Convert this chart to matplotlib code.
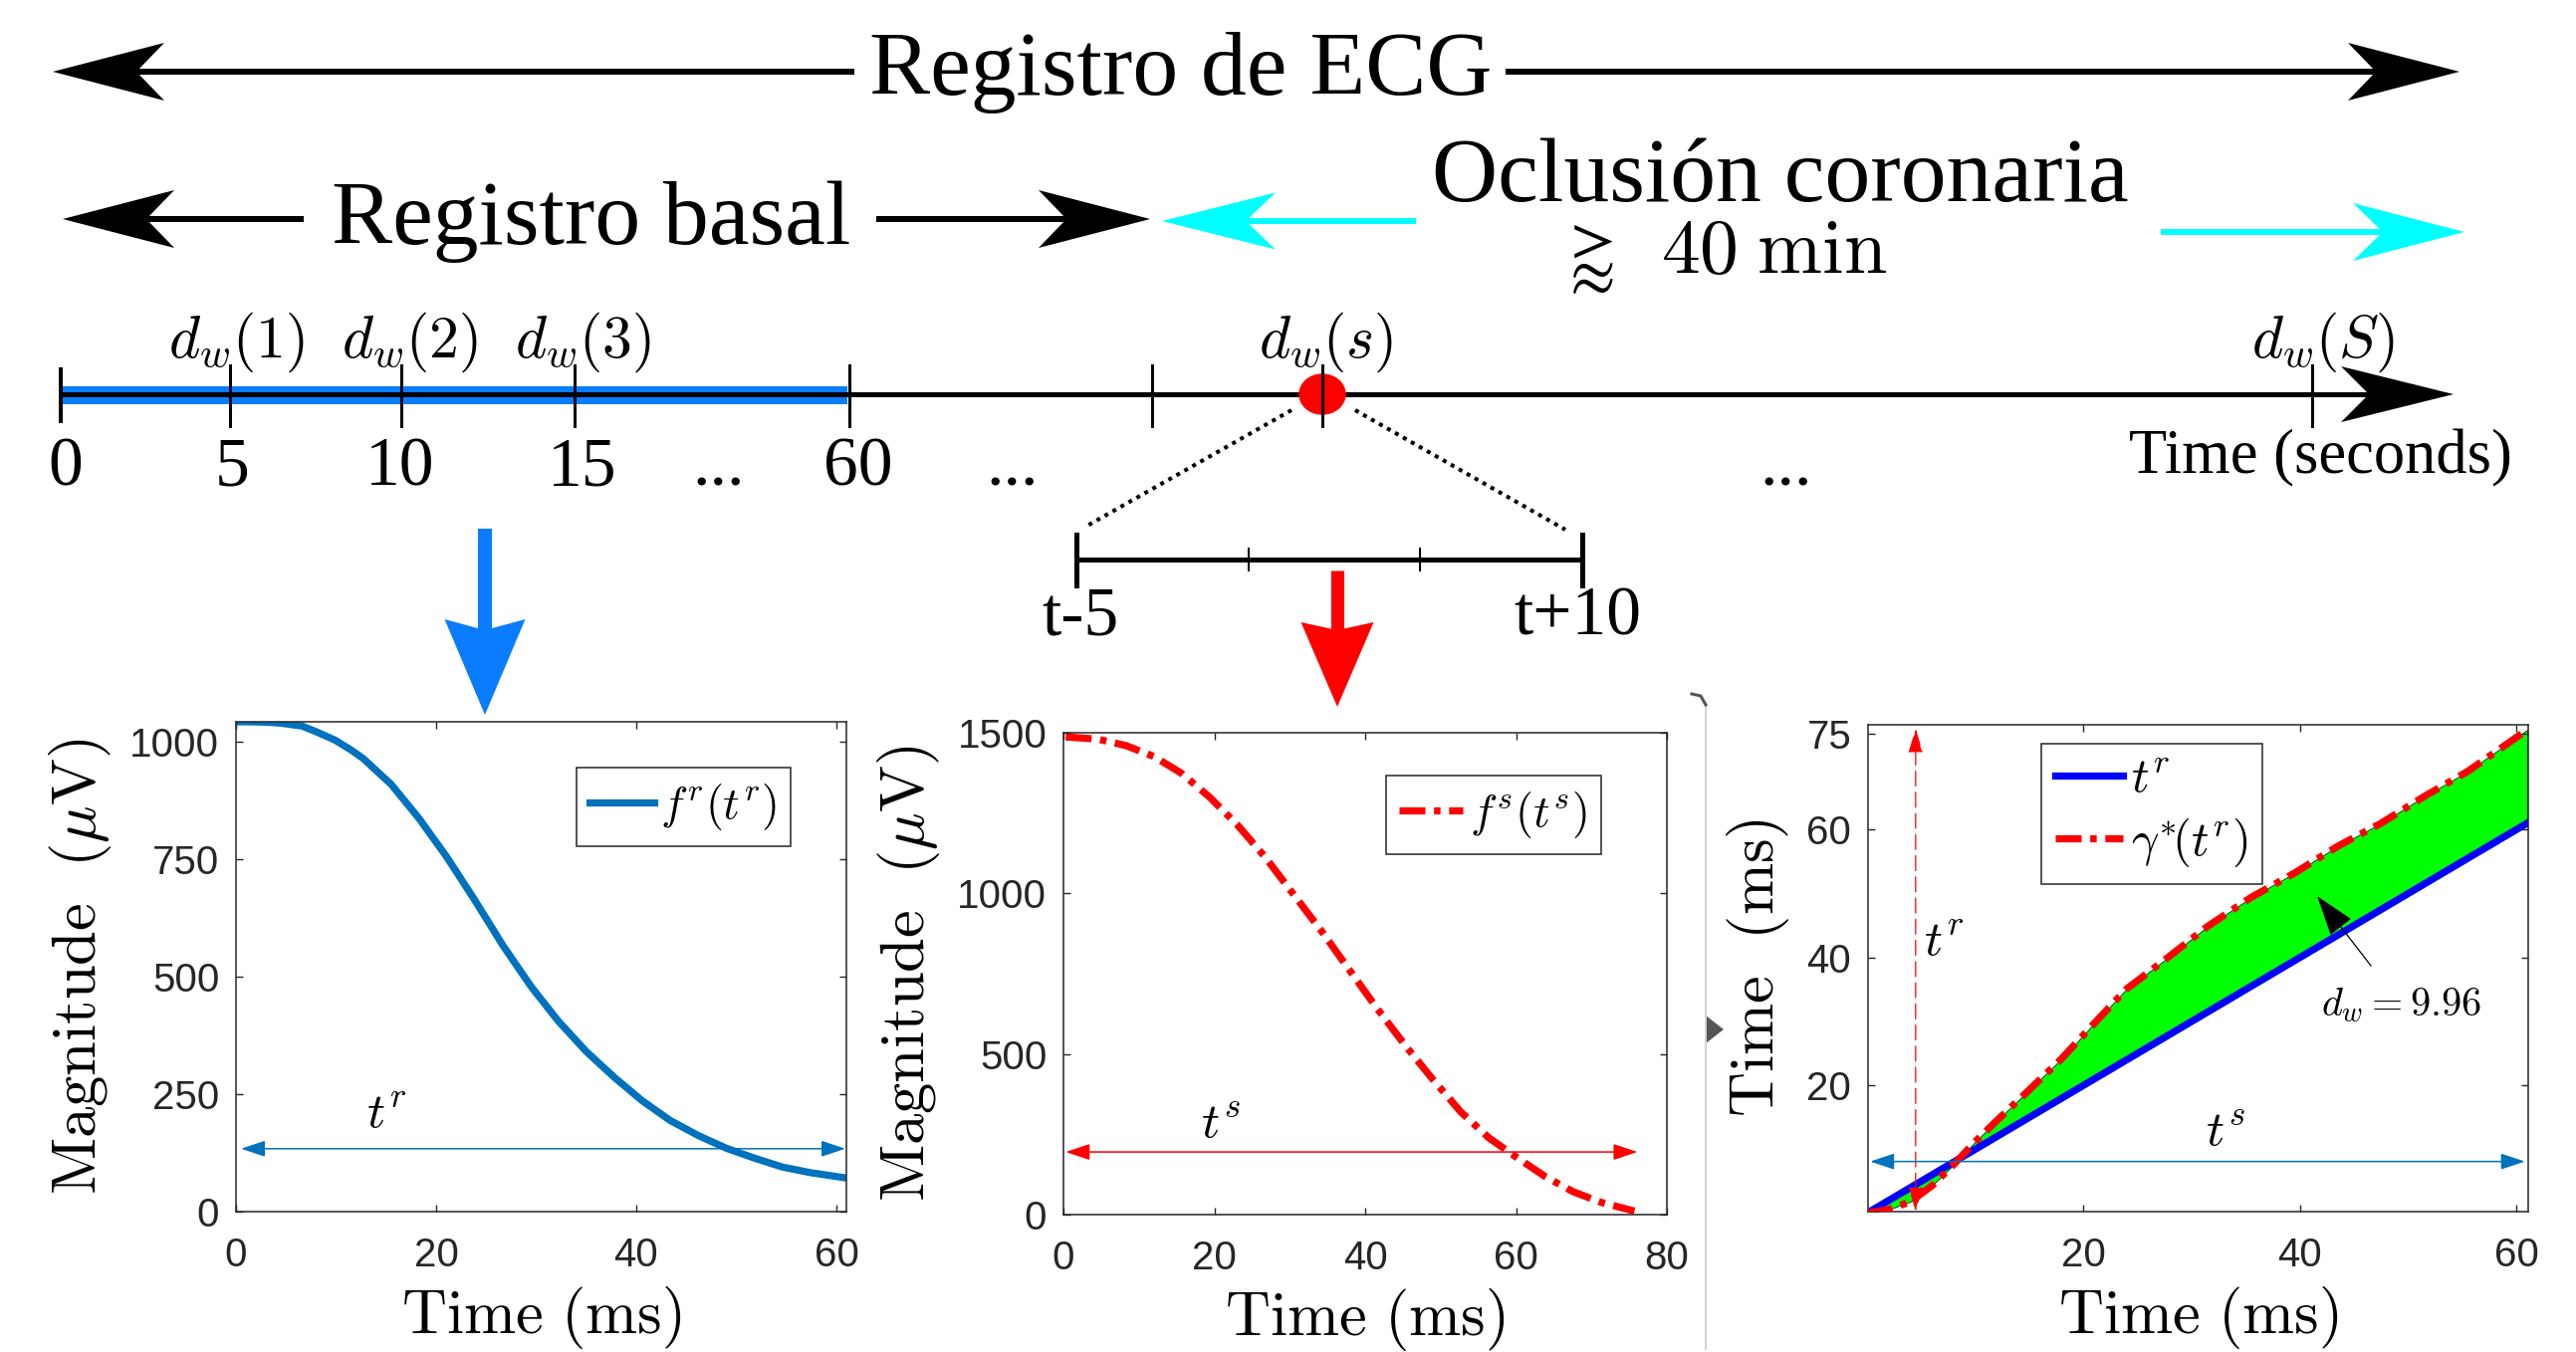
import numpy as np
import matplotlib
matplotlib.use('Agg')
import matplotlib.pyplot as plt
from matplotlib.patches import Polygon, Ellipse

plt.rcParams['mathtext.fontset'] = 'cm'
plt.rcParams['font.family'] = ['Liberation Serif', 'DejaVu Serif']

# --- datos de las curvas ---
# panel 1: f^r(t^r), registro basal
fr_t = [0, 1.5, 3.2, 4.5, 6.6, 8.0, 9.9, 11.5, 12.7, 15.5, 18.3, 21.1, 23.9,
        26.7, 29.5, 32.2, 35.0, 37.8, 40.6, 43.4, 46.2, 49.0, 51.8, 54.6,
        57.4, 60.9]
fr_v = [1043, 1043, 1042, 1040, 1034, 1022, 1004, 983, 965, 910, 837, 754,
        662, 566, 479, 406, 341, 286, 236, 194, 162, 135, 114, 95, 83, 72]

# panel 2: f^s(t^s), oclusion
fs_t = [0.3, 4.6, 8.3, 12.0, 15.7, 19.4, 23.1, 26.8, 30.5, 34.2, 37.9,
        41.6, 45.3, 49.0, 52.7, 56.4, 60.1, 63.9, 67.6, 71.3, 75.7]
fs_v = [1487, 1480, 1460, 1426, 1373, 1299, 1212, 1111, 997, 883, 762,
        641, 527, 420, 319, 239, 178, 118, 71, 38, 11]

# panel 3: alineamiento DTW
tr_t = [0, 61]
gam_t = [0, 2, 4, 6, 8, 10, 12, 15, 18, 21, 24, 27.5, 31.5, 35.5, 39.5,
         43.5, 47.5, 51.5, 55.5, 61]
gam_v = [0, 0.6, 1.8, 4.3, 7.6, 11.2, 14.5, 19.3, 24.2, 29.7, 35.1, 39.6,
         44.9, 49.4, 53.2, 57.4, 61.0, 65.2, 69.1, 75.6]
dw_value = 9.96

# linea de tiempo
tl_labels = ['0', '5', '10', '15', '...', '60', '...', '...']
dw_labels = [r'$d_w(1)$', r'$d_w(2)$', r'$d_w(3)$', r'$d_w(s)$', r'$d_w(S)$']
win_labels = ['t-5', 't+10']

W, H = 2587, 1358
PX = 0.72  # puntos por pixel a 100 dpi
BLUE = '#0a7cff'
MBLUE = '#0072BD'
CYAN = '#00ffff'
GRAY = '#262626'
LW = 5.2
TICKFONT = 'Liberation Sans'

fig = plt.figure(figsize=(W / 100, H / 100), dpi=100)

# capa del esquema en coordenadas de pixel
ov = fig.add_axes([0, 0, 1, 1])
ov.set_xlim(0, W)
ov.set_ylim(H, 0)
ov.axis('off')


def arrow(x0, y0, x1, y1, color, width=6, hl=112, hw=58, notch=28, z=3):
    d = np.array([x1 - x0, y1 - y0], float)
    u = d / np.hypot(*d)
    p = np.array([-u[1], u[0]])
    tip = np.array([x1, y1], float)
    back = tip - u * hl
    nt = tip - u * (hl - notch)
    ov.plot([x0, nt[0]], [y0, nt[1]], color=color, lw=width * PX,
            solid_capstyle='butt', zorder=z)
    ov.add_patch(Polygon([tip, back + p * hw / 2, nt, back - p * hw / 2],
                         closed=True, fc=color, ec='none', zorder=z))


# encabezados
ov.text(1186, 95, 'Registro de ECG', ha='center', va='baseline', fontsize=66)
arrow(858, 72, 53, 72, 'k')
arrow(1512, 72, 2470, 72, 'k')

ov.text(594, 245, 'Registro basal', ha='center', va='baseline', fontsize=66)
arrow(305, 220, 63, 220, 'k')
arrow(880, 220, 1155, 220, 'k')

ov.text(1788, 202, 'Oclusión coronaria', ha='center', va='baseline', fontsize=66)
ov.text(1593, 276, r'$\gtrapprox$', ha='center', va='baseline', fontsize=48)
ov.text(1668, 274, r'$40\;\mathrm{min}$', ha='left', va='baseline', fontsize=56)
arrow(1422, 222, 1167, 222, CYAN, hl=114, hw=57, notch=30)
arrow(2170, 233, 2475, 233, CYAN, hl=112, hw=58, notch=30)

# linea de tiempo
ov.plot([62, 851], [397, 397], color=BLUE, lw=18 * PX, solid_capstyle='butt', zorder=2)
arrow(61, 396, 2464, 396, 'k', width=5, hl=113, hw=56, notch=28)
tick_x = [61, 231, 403, 577, 853, 1157, 1328, 2322]
ov.add_patch(Ellipse((1328, 396), 46, 40, color='red', zorder=4))
for i, tx in enumerate(tick_x):
    y0, y1 = (371, 423) if i == 0 else (367, 428)
    ov.plot([tx, tx], [y0, y1], color='k', lw=(4 if i == 0 else 3) * PX, zorder=5)

tl_x = [66, 233, 402, 585, 722, 862, 1017, 1794]
for lab, lx in zip(tl_labels, tl_x):
    ov.text(lx, 487, lab, ha='center', va='baseline', fontsize=50)

dw_x = [238, 412, 586, 1332, 2333]
for lab, lx in zip(dw_labels, dw_x):
    ov.text(lx, 376, lab, ha='center', va='bottom', fontsize=43)

ov.text(2330, 475, 'Time (seconds)', ha='center', va='baseline', fontsize=45)

# ventana [t-5, t+10]
ov.plot([1297, 1092], [412, 528], color='k', lw=4 * PX, linestyle=(0, (1, 1.3)))
ov.plot([1361, 1572], [412, 532], color='k', lw=4 * PX, linestyle=(0, (1, 1.3)))
ov.plot([1081, 1589], [562, 562], color='k', lw=5 * PX, solid_capstyle='butt')
for tx in [1081, 1589]:
    ov.plot([tx, tx], [537, 588], color='k', lw=5 * PX)
for tx in [1254, 1426]:
    ov.plot([tx, tx], [551, 573], color='k', lw=2 * PX)
ov.text(1085, 637, win_labels[0], ha='center', va='baseline', fontsize=50)
ov.text(1584, 637, win_labels[1], ha='center', va='baseline', fontsize=50)

# flechas grandes hacia los paneles
arrow(487, 531, 487, 718, BLUE, width=14, hl=96, hw=81, notch=11)
arrow(1343, 573, 1343, 710, 'red', width=13, hl=85, hw=73, notch=8)

# separador gris entre paneles 2 y 3
ov.plot([1713, 1713], [706, 1355], color='#d4d4d4', lw=2 * PX)
ov.plot([1699, 1708, 1713], [697, 699, 708], color='#555555', lw=3 * PX)
ov.add_patch(Polygon([(1713, 1020), (1731, 1034), (1713, 1048)], closed=True,
                     fc='#555555', ec='none'))


def style(ax, xt, yt, yl):
    ax.set_xticks(xt, labels=[str(v) for v in xt], fontfamily=TICKFONT, fontsize=29)
    ax.set_yticks(yt, labels=[str(v) for v in yt], fontfamily=TICKFONT, fontsize=29)
    ax.tick_params(axis='both', direction='in', length=5, width=1.0, top=True,
                   right=True, colors=GRAY)
    ax.tick_params(axis='y', pad=12)
    ax.tick_params(axis='x', pad=18)
    for sp in ax.spines.values():
        sp.set_linewidth(1.1)
        sp.set_color(GRAY)
    ax.set_xlabel(r'$\mathrm{Time\ (ms)}$', fontsize=45, va='center')
    ax.xaxis.set_label_coords(0.5, -0.217)
    ax.set_ylabel(yl[0], fontsize=45, va='center')
    ax.yaxis.set_label_coords(yl[1], 0.5)


def legend(ax, loc, anchor, fs):
    leg = ax.legend(loc=loc, bbox_to_anchor=anchor, fontsize=fs, frameon=True,
                    fancybox=False, edgecolor=GRAY, framealpha=1, borderpad=0.3,
                    handlelength=1.4, handletextpad=0.15, borderaxespad=0,
                    labelspacing=0.3)
    leg.get_frame().set_linewidth(1.1)


mag = r'$\mathrm{Magnitude}\ \ (\mu\mathrm{V})$'
dd = (3.6, 1.2, 0.9, 1.2)

# panel 1
ax1 = fig.add_axes([237 / W, 1 - 1217 / H, 613 / W, 492 / H])
ax1.plot(fr_t, fr_v, color=MBLUE, lw=LW, label=r'$f^r(t^r)$',
         solid_joinstyle='round')
ax1.set_xlim(0, 61)
ax1.set_ylim(0, 1043)
style(ax1, [0, 20, 40, 60], [0, 250, 500, 750, 1000], (mag, -0.2545))
ax1.annotate('', xy=(60.9, 134), xytext=(0.5, 134),
             arrowprops=dict(arrowstyle='<|-|>,head_length=1.5,head_width=0.5',
                             color=MBLUE, lw=1.1, shrinkA=0, shrinkB=0))
ax1.text(15, 205, r'$t^r$', fontsize=36, ha='center', va='center')
legend(ax1, 'upper right', (0.9086, 0.9065), 33)

# panel 2
ax2 = fig.add_axes([1068 / W, 1 - 1220 / H, 606 / W, 484 / H])
ax2.plot(fs_t, fs_v, color='red', lw=LW, dashes=dd, label=r'$f^s(t^s)$')
ax2.set_xlim(0, 80)
ax2.set_ylim(0, 1500)
style(ax2, [0, 20, 40, 60, 80], [0, 500, 1000, 1500], (mag, -0.257))
ax2.annotate('', xy=(76.1, 195), xytext=(0.3, 195),
             arrowprops=dict(arrowstyle='<|-|>,head_length=1.5,head_width=0.5',
                             color='red', lw=1.1, shrinkA=0, shrinkB=0))
ax2.text(20.9, 279, r'$t^s$', fontsize=36, ha='center', va='center')
legend(ax2, 'upper right', (0.891, 0.911), 33)

# panel 3
ax3 = fig.add_axes([1876 / W, 1 - 1217 / H, 663 / W, 489 / H])
ax3.fill_between(gam_t, np.interp(gam_t, tr_t, tr_t), gam_v, color='#00ff00',
                 edgecolor='k', linewidth=0.5, zorder=1)
ax3.plot(tr_t, tr_t, color='blue', lw=LW, label=r'$t^r$', zorder=2)
ax3.plot(gam_t, gam_v, color='red', lw=LW, dashes=dd,
         label=r'$\gamma^{*}\!(t^r)$', zorder=3)
ax3.set_xlim(0.1, 61.1)
ax3.set_ylim(0.26, 76.4)
style(ax3, [20, 40, 60], [20, 40, 60, 75], (r'$\mathrm{Time\ \ (ms)}$', -0.167))
ax3.annotate('', xy=(4.5, 75.8), xytext=(4.5, 0.3),
             arrowprops=dict(arrowstyle='<|-|>,head_length=1.5,head_width=0.45',
                             color='red', lw=0.9, linestyle=(0, (12, 5)),
                             shrinkA=0, shrinkB=0), zorder=4)
ax3.text(7.1, 42.3, r'$t^r$', fontsize=36, ha='center', va='center')
ax3.annotate('', xy=(60.8, 8.1), xytext=(0.3, 8.1),
             arrowprops=dict(arrowstyle='<|-|>,head_length=1.5,head_width=0.5',
                             color=MBLUE, lw=1.1, shrinkA=0, shrinkB=0), zorder=4)
ax3.text(33.1, 12.5, r'$t^s$', fontsize=36, ha='center', va='center')
ax3.annotate(r'$d_w = %.2f$' % dw_value, xy=(41.6, 49.6), xytext=(49.4, 32.5),
             fontsize=29, ha='center', va='center',
             arrowprops=dict(arrowstyle='-|>,head_length=0.9,head_width=0.3',
                             color='k', lw=0.9, shrinkA=16, shrinkB=0))
legend(ax3, 'upper left', (0.262, 0.961), 35)

fig.savefig('out.png', dpi=100)
